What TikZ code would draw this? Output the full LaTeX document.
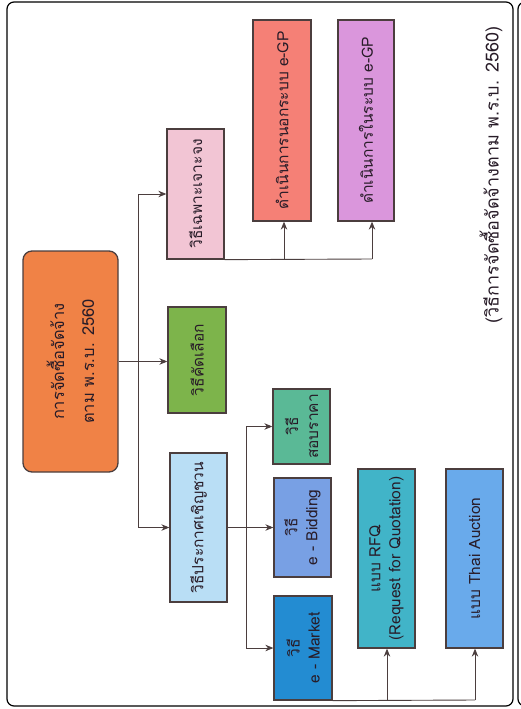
\documentclass[tikz,border=0pt]{standalone}
\usepackage{fontspec}
\usetikzlibrary{arrows.meta}
\newfontfamily\thaifont[Script=Thai]{Loma}

\definecolor{rootorange}{RGB}{240,130,70}
\definecolor{specpink}{RGB}{242,197,212}
\definecolor{selgreen}{RGB}{125,180,75}
\definecolor{invblue}{RGB}{185,222,245}
\definecolor{outsalmon}{RGB}{245,128,118}
\definecolor{inviolet}{RGB}{218,150,220}
\definecolor{pricegreen}{RGB}{90,185,150}
\definecolor{bidblue}{RGB}{120,160,228}
\definecolor{marketblue}{RGB}{35,140,210}
\definecolor{rfqteal}{RGB}{65,180,200}
\definecolor{auctionblue}{RGB}{105,170,235}
\definecolor{linegray}{RGB}{75,62,62}
\definecolor{textdark}{RGB}{40,28,40}

\begin{document}
\begin{tikzpicture}[x=1pt, y=-1pt, font=\thaifont\fontsize{15.5}{20}\selectfont]
        % styles
        \tikzstyle{box}=[draw=linegray, line width=1.3pt, rotate=90, align=center, text=textdark, inner sep=2pt]
        \tikzstyle{link}=[draw=linegray, line width=0.9pt]
        \tikzstyle{arrow}=[link, -{Stealth[length=8pt, width=6.5pt]}]

        \useasboundingbox (0,0) rectangle (521,709);

        % frame
        \draw[line width=1.2pt, rounded corners=7pt] (7,2) rectangle (513,706);
        \draw[line width=1.2pt, rounded corners=7pt] (530,2) -- (518,2) -- (518,706) -- (530,706);

        % boxes
        \node[box, fill=rootorange, rounded corners=9pt, minimum width=221pt, minimum height=95pt, font=\thaifont\fontsize{16.5}{22}\selectfont] (root) at (70.5,361.5) {การจัดซื้อจัดจ้าง\\[8pt]ตาม พ.ร.บ. 2560};
        \node[box, fill=specpink, minimum width=130pt, minimum height=57pt] (specific) at (195.5,194) {วิธีเฉพาะเจาะจง};
        \node[box, fill=selgreen, minimum width=106pt, minimum height=58pt] (select) at (197,360) {วิธีคัดเลือก};
        \node[box, fill=invblue, minimum width=149pt, minimum height=57pt] (invite) at (198.5,527.5) {วิธีประกาศเชิญชวน};
        \node[box, fill=outsalmon, minimum width=201pt, minimum height=58pt] (outside) at (282,120.5) {ดำเนินการนอกระบบ e-GP};
        \node[box, fill=inviolet, minimum width=201pt, minimum height=56pt] (inside) at (366,120.5) {ดำเนินการในระบบ e-GP};
        \node[box, fill=pricegreen, minimum width=75pt, minimum height=57pt] (price) at (301.5,426.5) {วิธี\\สอบราคา};
        \node[box, fill=bidblue, minimum width=99pt, minimum height=57pt] (bidding) at (302.5,527.5) {วิธี\\e - Bidding};
        \node[box, fill=marketblue, minimum width=104pt, minimum height=58pt] (market) at (303,648) {วิธี\\e - Market};
        \node[box, fill=rfqteal, minimum width=179pt, minimum height=57pt] (rfq) at (386.5,558.5) {แบบ RFQ\\(Request for Quotation)};
        \node[box, fill=auctionblue, minimum width=179pt, minimum height=57pt] (auction) at (474.5,558.5) {แบบ Thai Auction};

        % caption
        \node[rotate=90, text=textdark, font=\thaifont\fontsize{18}{22}\selectfont] (caption) at (491,175) {(วิธีการจัดซื้อจัดจ้างตาม พ.ร.บ. 2560)};

        % connectors
        \coordinate (trunk) at (138,361.5);
        \coordinate (subtrunk) at (246,527.5);
        \coordinate (outfoot) at (284,259);
        \coordinate (infoot) at (372,259);
        \coordinate (rfqfoot) at (387,700);
        \coordinate (auctionfoot) at (475,700);

        \draw[arrow] (root.south) -- (root.south -| select.north);
        \draw[link] (trunk |- specific) -- (trunk |- invite);
        \draw[arrow] (trunk |- specific) -- (specific.north);
        \draw[arrow] (trunk |- invite) -- (invite.north);

        \draw[arrow] (invite.south) -- (bidding.north);
        \draw[link] (subtrunk |- price) -- (subtrunk |- market);
        \draw[arrow] (subtrunk |- price) -- (price.north);
        \draw[arrow] (subtrunk |- market) -- (market.north);

        \draw[link] (specific.south west) -- (infoot);
        \draw[arrow] (outfoot) -- (outfoot |- outside.west);
        \draw[arrow] (infoot) -- (infoot |- inside.west);

        \draw[link] (market.south west) -- (auctionfoot);
        \draw[arrow] (rfqfoot) -- (rfqfoot |- rfq.west);
        \draw[arrow] (auctionfoot) -- (auctionfoot |- auction.west);
    \end{tikzpicture}
\end{document}
